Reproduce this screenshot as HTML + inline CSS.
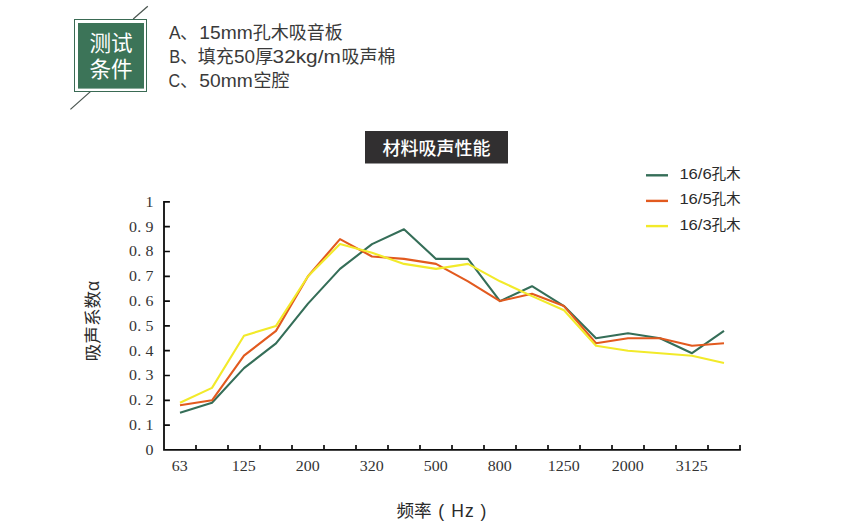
<!DOCTYPE html>
<html lang="zh-CN">
<head>
<meta charset="utf-8">
<title>材料吸声性能</title>
<style>
html,body{margin:0;padding:0;background:#fff;}
body{width:850px;height:529px;overflow:hidden;font-family:"Liberation Sans",sans-serif;}
svg{display:block;}
text{white-space:pre;}
</style>
</head>
<body>
<svg width="850" height="529" viewBox="0 0 850 529">
<line x1="133.2" y1="19" x2="147.8" y2="6.2" stroke="#4a5550" stroke-width="1.25"/>
<line x1="90.4" y1="91.6" x2="70.4" y2="109.4" stroke="#4a5550" stroke-width="1.25"/>
<rect x="74.5" y="19.5" width="72" height="72" fill="#fff" stroke="#3a6a54" stroke-width="1"/>
<rect x="78" y="23" width="66" height="65.6" fill="#3c7458"/>
<text x="111" y="51.3" font-size="21.6" text-anchor="middle" font-family="'Liberation Sans', 'Noto Sans CJK SC', sans-serif" fill="#fff">测试</text>
<text x="111" y="77.3" font-size="21.6" text-anchor="middle" font-family="'Liberation Sans', 'Noto Sans CJK SC', sans-serif" fill="#fff">条件</text>
<text x="169.0" y="39.1" font-size="18" textLength="11.6" lengthAdjust="spacingAndGlyphs" font-family="Liberation Sans, sans-serif" fill="#3a3a3a">A</text>
<text x="180" y="39.1" font-size="18" font-family="'Liberation Sans', 'Noto Sans CJK SC', sans-serif" fill="#3a3a3a">、</text>
<text x="199.3" y="39.1" font-size="18" textLength="53.4" lengthAdjust="spacingAndGlyphs" font-family="Liberation Sans, sans-serif" fill="#3a3a3a">15mm</text>
<text x="252.7" y="39.1" font-size="18" font-family="'Liberation Sans', 'Noto Sans CJK SC', sans-serif" fill="#3a3a3a">孔木吸音板</text>
<text x="169.3" y="63.0" font-size="18" textLength="11.0" lengthAdjust="spacingAndGlyphs" font-family="Liberation Sans, sans-serif" fill="#3a3a3a">B</text>
<text x="180" y="63.0" font-size="18" font-family="'Liberation Sans', 'Noto Sans CJK SC', sans-serif" fill="#3a3a3a">、</text>
<text x="197.8" y="63.0" font-size="18" font-family="'Liberation Sans', 'Noto Sans CJK SC', sans-serif" fill="#3a3a3a">填充</text>
<text x="234.0" y="63.0" font-size="18" textLength="21" lengthAdjust="spacingAndGlyphs" font-family="Liberation Sans, sans-serif" fill="#3a3a3a">50</text>
<text x="255.2" y="63.0" font-size="18" font-family="'Liberation Sans', 'Noto Sans CJK SC', sans-serif" fill="#3a3a3a">厚</text>
<text x="272.6" y="63.0" font-size="18" textLength="68.2" lengthAdjust="spacingAndGlyphs" font-family="Liberation Sans, sans-serif" fill="#3a3a3a">32kg/m</text>
<text x="341.5" y="63.0" font-size="18" font-family="'Liberation Sans', 'Noto Sans CJK SC', sans-serif" fill="#3a3a3a">吸声棉</text>
<text x="168.6" y="87.0" font-size="18" textLength="11.6" lengthAdjust="spacingAndGlyphs" font-family="Liberation Sans, sans-serif" fill="#3a3a3a">C</text>
<text x="180" y="87.0" font-size="18" font-family="'Liberation Sans', 'Noto Sans CJK SC', sans-serif" fill="#3a3a3a">、</text>
<text x="199.3" y="87.0" font-size="18" textLength="53.4" lengthAdjust="spacingAndGlyphs" font-family="Liberation Sans, sans-serif" fill="#3a3a3a">50mm</text>
<text x="253.5" y="87.0" font-size="18" font-family="'Liberation Sans', 'Noto Sans CJK SC', sans-serif" fill="#3a3a3a">空腔</text>
<rect x="365" y="131" width="143" height="32.5" fill="#312f30"/>
<text x="436.5" y="154.8" font-size="18" font-weight="500" text-anchor="middle" font-family="'Liberation Sans', 'Noto Sans CJK SC', sans-serif" fill="#fff">材料吸声性能</text>
<line x1="646" y1="175.3" x2="668" y2="175.3" stroke="#356e58" stroke-width="2.4"/>
<text x="679.4" y="178.9" font-size="15" textLength="32.3" lengthAdjust="spacingAndGlyphs" font-family="Liberation Sans, sans-serif" fill="#2b2b2b">16/6</text>
<text x="711.4" y="178.9" font-size="14.6" font-family="'Liberation Sans', 'Noto Sans CJK SC', sans-serif" fill="#2b2b2b">孔木</text>
<line x1="646" y1="200.9" x2="668" y2="200.9" stroke="#e25a1f" stroke-width="2.4"/>
<text x="679.4" y="204.4" font-size="15" textLength="32.3" lengthAdjust="spacingAndGlyphs" font-family="Liberation Sans, sans-serif" fill="#2b2b2b">16/5</text>
<text x="711.4" y="204.4" font-size="14.6" font-family="'Liberation Sans', 'Noto Sans CJK SC', sans-serif" fill="#2b2b2b">孔木</text>
<line x1="646" y1="226.1" x2="668" y2="226.1" stroke="#f2ea2a" stroke-width="2.4"/>
<text x="679.4" y="229.7" font-size="15" textLength="32.3" lengthAdjust="spacingAndGlyphs" font-family="Liberation Sans, sans-serif" fill="#2b2b2b">16/3</text>
<text x="711.4" y="229.7" font-size="14.6" font-family="'Liberation Sans', 'Noto Sans CJK SC', sans-serif" fill="#2b2b2b">孔木</text>
<path d="M164.0,201.0V449.9H740.9" fill="none" stroke="#0c0c0c" stroke-width="1.8" stroke-linejoin="miter"/>
<path d="M164.0,425.1h5.9M164.0,400.3h5.9M164.0,375.5h5.9M164.0,350.7h5.9M164.0,325.9h5.9M164.0,301.1h5.9M164.0,276.3h5.9M164.0,251.5h5.9M164.0,226.7h5.9M164.0,201.9h5.9M196.0,449.9v-4.9M228.0,449.9v-4.9M260.0,449.9v-4.9M292.0,449.9v-4.9M324.0,449.9v-4.9M356.0,449.9v-4.9M388.0,449.9v-4.9M420.0,449.9v-4.9M452.0,449.9v-4.9M484.0,449.9v-4.9M516.0,449.9v-4.9M548.0,449.9v-4.9M580.0,449.9v-4.9M612.0,449.9v-4.9M644.0,449.9v-4.9M676.0,449.9v-4.9M708.0,449.9v-4.9M740.0,449.9v-4.9" fill="none" stroke="#0c0c0c" stroke-width="1.7"/>
<text transform="translate(149.5,454.8) scale(1.14,1)" x="0.00" y="0" text-anchor="middle" font-family="Liberation Serif, serif" font-size="14" fill="#333">0</text>
<text transform="translate(133.0,430.0) scale(1.14,1)" x="0.00 5.44 14.39" y="0" text-anchor="middle" font-family="Liberation Serif, serif" font-size="14" fill="#333">0.1</text>
<text transform="translate(133.0,405.2) scale(1.14,1)" x="0.00 5.44 14.39" y="0" text-anchor="middle" font-family="Liberation Serif, serif" font-size="14" fill="#333">0.2</text>
<text transform="translate(133.0,380.4) scale(1.14,1)" x="0.00 5.44 14.39" y="0" text-anchor="middle" font-family="Liberation Serif, serif" font-size="14" fill="#333">0.3</text>
<text transform="translate(133.0,355.6) scale(1.14,1)" x="0.00 5.44 14.39" y="0" text-anchor="middle" font-family="Liberation Serif, serif" font-size="14" fill="#333">0.4</text>
<text transform="translate(133.0,330.8) scale(1.14,1)" x="0.00 5.44 14.39" y="0" text-anchor="middle" font-family="Liberation Serif, serif" font-size="14" fill="#333">0.5</text>
<text transform="translate(133.0,306.0) scale(1.14,1)" x="0.00 5.44 14.39" y="0" text-anchor="middle" font-family="Liberation Serif, serif" font-size="14" fill="#333">0.6</text>
<text transform="translate(133.0,281.2) scale(1.14,1)" x="0.00 5.44 14.39" y="0" text-anchor="middle" font-family="Liberation Serif, serif" font-size="14" fill="#333">0.7</text>
<text transform="translate(133.0,256.4) scale(1.14,1)" x="0.00 5.44 14.39" y="0" text-anchor="middle" font-family="Liberation Serif, serif" font-size="14" fill="#333">0.8</text>
<text transform="translate(133.0,231.6) scale(1.14,1)" x="0.00 5.44 14.39" y="0" text-anchor="middle" font-family="Liberation Serif, serif" font-size="14" fill="#333">0.9</text>
<text transform="translate(149.5,206.8) scale(1.14,1)" x="0.00" y="0" text-anchor="middle" font-family="Liberation Serif, serif" font-size="14" fill="#333">1</text>
<text transform="translate(175.7,471.2) scale(1.14,1)" x="0.00 7.02" y="0" text-anchor="middle" font-family="Liberation Serif, serif" font-size="14" fill="#333">63</text>
<text transform="translate(235.7,471.2) scale(1.14,1)" x="0.00 7.02 14.04" y="0" text-anchor="middle" font-family="Liberation Serif, serif" font-size="14" fill="#333">125</text>
<text transform="translate(299.7,471.2) scale(1.14,1)" x="0.00 7.02 14.04" y="0" text-anchor="middle" font-family="Liberation Serif, serif" font-size="14" fill="#333">200</text>
<text transform="translate(363.7,471.2) scale(1.14,1)" x="0.00 7.02 14.04" y="0" text-anchor="middle" font-family="Liberation Serif, serif" font-size="14" fill="#333">320</text>
<text transform="translate(427.7,471.2) scale(1.14,1)" x="0.00 7.02 14.04" y="0" text-anchor="middle" font-family="Liberation Serif, serif" font-size="14" fill="#333">500</text>
<text transform="translate(491.7,471.2) scale(1.14,1)" x="0.00 7.02 14.04" y="0" text-anchor="middle" font-family="Liberation Serif, serif" font-size="14" fill="#333">800</text>
<text transform="translate(551.7,471.2) scale(1.14,1)" x="0.00 7.02 14.04 21.05" y="0" text-anchor="middle" font-family="Liberation Serif, serif" font-size="14" fill="#333">1250</text>
<text transform="translate(615.7,471.2) scale(1.14,1)" x="0.00 7.02 14.04 21.05" y="0" text-anchor="middle" font-family="Liberation Serif, serif" font-size="14" fill="#333">2000</text>
<text transform="translate(679.7,471.2) scale(1.14,1)" x="0.00 7.02 14.04 21.05" y="0" text-anchor="middle" font-family="Liberation Serif, serif" font-size="14" fill="#333">3125</text>
<polyline fill="none" stroke="#356e58" stroke-width="2.1" stroke-linejoin="round" points="180.0,412.7 212.0,402.8 244.0,368.1 276.0,343.3 308.0,303.6 340.0,268.9 372.0,244.1 404.0,229.2 436.0,258.9 468.0,258.9 500.0,301.1 532.0,286.2 564.0,306.1 596.0,338.3 628.0,333.3 660.0,338.3 692.0,353.2 724.0,330.9"/>
<polyline fill="none" stroke="#e25a1f" stroke-width="2.1" stroke-linejoin="round" points="180.0,405.3 212.0,400.3 244.0,355.7 276.0,330.9 308.0,276.3 340.0,239.1 372.0,256.5 404.0,258.9 436.0,263.9 468.0,281.3 500.0,301.1 532.0,293.7 564.0,306.1 596.0,343.3 628.0,338.3 660.0,338.3 692.0,345.7 724.0,343.3"/>
<polyline fill="none" stroke="#f2ea2a" stroke-width="2.1" stroke-linejoin="round" points="180.0,402.8 212.0,387.9 244.0,335.8 276.0,325.9 308.0,276.3 340.0,244.1 372.0,252.7 404.0,263.9 436.0,268.9 468.0,263.9 500.0,281.3 532.0,296.1 564.0,310.3 596.0,345.7 628.0,350.7 660.0,353.2 692.0,355.7 724.0,363.1"/>
<g transform="translate(98.6,361.9) rotate(-90)">
<text x="0.6" y="0" font-size="17.6" font-family="'Liberation Sans', 'Noto Sans CJK SC', sans-serif" fill="#2b2b2b">吸声系数α</text>
</g>
<text x="396.5" y="517.2" font-size="17.6" font-family="'Liberation Sans', 'Noto Sans CJK SC', sans-serif" fill="#2b2b2b">频率</text>
<text x="438.3 444 451.3 464.9 474 480.5" y="517.2" font-size="17.5" font-family="Liberation Sans, sans-serif" fill="#2b2b2b">( Hz )</text>
</svg>
</body>
</html>
